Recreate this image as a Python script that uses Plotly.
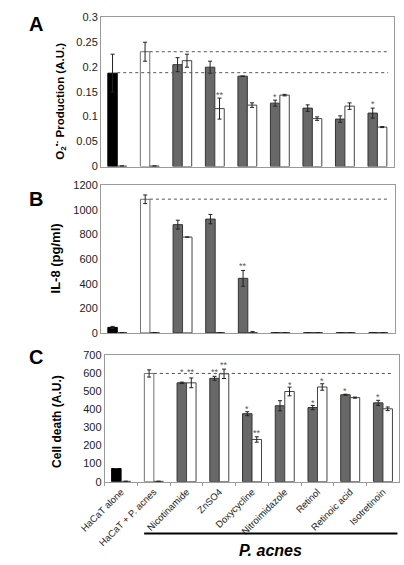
import plotly.graph_objects as go

W, H = 404, 565

categories = ["HaCaT alone", "HaCaT + P. acnes", "Nicotinamide", "ZnSO4", "Doxycycline",
              "Nitroimidazole", "Retinol", "Retinoic acid", "Isotretinoin"]

# Panel A: O2- production
a_s1 = [0.187, 0.230, 0.204, 0.199, 0.181, 0.127, 0.117, 0.095, 0.107]
a_e1 = [0.038, 0.019, 0.014, 0.012, 0.0, 0.006, 0.0065, 0.0065, 0.010]
a_s2 = [0.001, 0.001, 0.212, 0.116, 0.123, 0.143, 0.096, 0.121, 0.079]
a_e2 = [0.0, 0.0, 0.013, 0.021, 0.0046, 0.0015, 0.0035, 0.0065, 0.001]
a_lines = [0.230, 0.188]
a_stars = [(3, 2, "**", 0.147), (5, 1, "*", 0.144), (8, 1, "*", 0.130)]

# Panel B: IL-8
b_s1 = [45, 1085, 879, 924, 443, 3, 3, 3, 3]
b_e1 = [8, 35, 36, 38, 64, 0, 0, 0, 0]
b_s2 = [2, 2, 778, 3, 3, 3, 3, 3, 3]
b_e2 = [0, 0, 0, 0, 8, 0, 0, 0, 0]
b_lines = [1086]
b_stars = [(4, 1, "**", 563)]

# Panel C: cell death
c_s1 = [73, 600, 548, 573, 377, 421, 411, 482, 437]
c_e1 = [0, 20, 4, 11, 11, 28, 12, 3, 14]
c_s2 = [2, 2, 548, 598, 234, 500, 525, 466, 404]
c_e2 = [0, 0, 27, 26, 15, 24, 18, 3, 10]
c_lines = [600]
c_stars = [(2, 1, "*", 621), (2, 2, "**", 621), (3, 1, "**", 621), (3, 2, "**", 657),
           (4, 1, "*", 416), (4, 2, "**", 279), (5, 2, "*", 548), (6, 1, "*", 450),
           (6, 2, "*", 570), (7, 1, "*", 516), (8, 1, "*", 479)]

FONT = "Arial, Liberation Sans, sans-serif"
DARK = "#686868"
s1_fill = ["#000000", "#ffffff"] + [DARK] * 7
s1_line = ["#000000", "#707070"] + ["#333333"] * 7

panels = [
    ("", a_s1, a_e1, a_s2, a_e2, a_lines, a_stars, [0, 0.3], 0.05, (81, 393, 11, 164)),
    ("2", b_s1, b_e1, b_s2, b_e2, b_lines, b_stars, [0, 1200], 200, (81, 394, 183, 334)),
    ("3", c_s1, c_e1, c_s2, c_e2, c_lines, c_stars, [0, 700], 100, (85, 399, 357, 486)),
]

fig = go.Figure()
annotations = []
shapes = []
for k, (sfx, s1, e1, s2, e2, lines, stars, yr, dt, box) in enumerate(panels):
    xa, ya = "x" + sfx, "y" + sfx
    fig.add_trace(go.Bar(x=categories, y=s1, xaxis=xa, yaxis=ya,
                         marker=dict(color=s1_fill, line=dict(color=s1_line, width=1)),
                         error_y=dict(type="data", array=e1, color="#222222", thickness=1, width=2),
                         showlegend=False, hoverinfo="skip"))
    fig.add_trace(go.Bar(x=categories, y=s2, xaxis=xa, yaxis=ya,
                         marker=dict(color="#ffffff", line=dict(color="#444444", width=1)),
                         error_y=dict(type="data", array=e2, color="#222222", thickness=1, width=2),
                         showlegend=False, hoverinfo="skip"))
    for j, ln in enumerate(lines):
        start = 1.0 if (k > 0 or j == 0) else 0.0
        shapes.append(dict(type="line", xref=xa, yref=ya, x0=start, x1=8.33, y0=ln, y1=ln,
                           line=dict(color="#555555", width=1, dash="dot")))
    for (gi, si, txt, yv) in stars:
        xpos = gi - 0.145 if si == 1 else gi + 0.145
        annotations.append(dict(x=xpos, y=yv, xref=xa, yref=ya, text=txt, showarrow=False,
                                yanchor="middle", yshift=-2,
                                font=dict(size=9, color="#555555", family=FONT)))
    x0, x1, y0, y1 = box
    xk = "xaxis" + sfx
    yk = "yaxis" + sfx
    fig.layout[xk] = dict(domain=[x0 / W, x1 / W], anchor=ya, showline=True, mirror=True,
                          linecolor="#9a9a9a", linewidth=1, range=[-0.5, 8.5],
                          showticklabels=(k == 2), tickangle=-45,
                          ticks="outside" if k == 2 else "", ticklen=3, tickcolor="#9a9a9a",
                          tickson="boundaries",
                          tickfont=dict(size=9.5, color="#222222", family=FONT))
    fig.layout[yk] = dict(domain=[1 - y1 / H, 1 - y0 / H], anchor=xa, range=yr, dtick=dt,
                          showline=True, mirror=True, linecolor="#9a9a9a", linewidth=1,
                          showgrid=False, zeroline=False, ticks="",
                          tickfont=dict(size=11, color="#222222", family=FONT))

# Panel letters
for letter, ytop in [("A", 5), ("B", 184), ("C", 345)]:
    annotations.append(dict(x=2 / W, y=1 - ytop / H, xref="paper", yref="paper", text="<b>" + letter + "</b>",
                            showarrow=False, xanchor="left", yanchor="top",
                            font=dict(size=20, color="#000000", family=FONT)))

# Y axis titles
ytitles = [("<b>O<sub>2</sub><sup>•-</sup> Production (A.U.)</b>", 37, 97, 11.5),
           ("<b>IL-8 (pg/ml)</b>", 33, 258, 13),
           ("<b>Cell death (A.U.)</b>", 34, 424, 12)]
for txt, xc, yc, fs in ytitles:
    annotations.append(dict(x=xc / W, y=1 - yc / H, xref="paper", yref="paper", text=txt,
                            showarrow=False, textangle=-90, xanchor="center", yanchor="middle",
                            font=dict(size=fs, color="#000000", family=FONT)))

# P. acnes bracket
shapes.append(dict(type="line", xref="paper", yref="paper", x0=127 / W, x1=397 / W,
                   y0=1 - 539 / H, y1=1 - 539 / H, line=dict(color="#000000", width=2)))
annotations.append(dict(x=262 / W, y=1 - 556 / H, xref="paper", yref="paper",
                        text="<b><i>P. acnes</i></b>", showarrow=False,
                        xanchor="center", yanchor="middle",
                        font=dict(size=16, color="#000000", family=FONT)))

fig.update_layout(width=W, height=H, margin=dict(l=0, r=0, t=0, b=0),
                  paper_bgcolor="white", plot_bgcolor="white",
                  barmode="group", bargap=0.42, bargroupgap=0,
                  annotations=annotations, shapes=shapes,
                  font=dict(family=FONT), hovermode=False)

fig.write_html("out.html", config={"displayModeBar": False, "staticPlot": True},
               post_script="document.body.style.margin='0';document.body.style.overflow='hidden';")
